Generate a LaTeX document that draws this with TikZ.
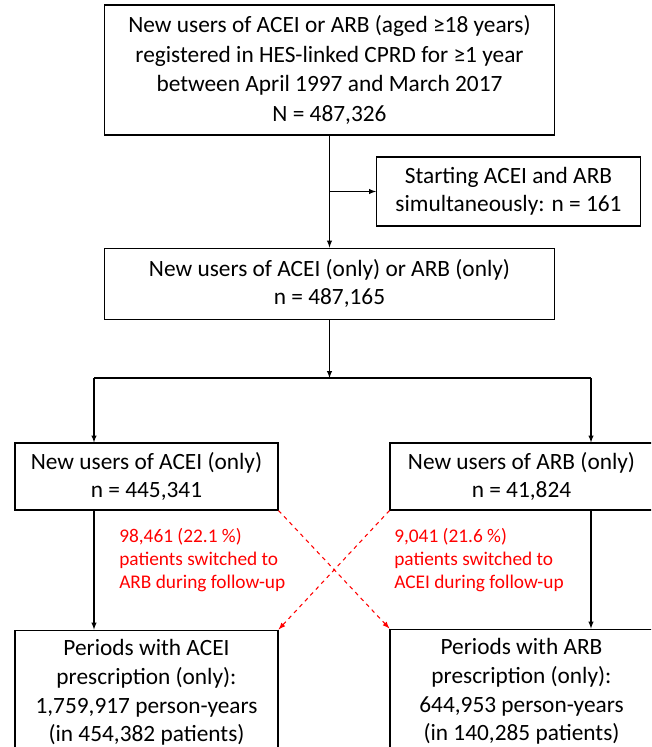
\documentclass[tikz,border=0pt]{standalone}
\usepackage{fontspec}
\setmainfont{Carlito}
\usetikzlibrary{positioning,arrows}
\tikzset{
    caja/.style={draw,line width=0.8pt,align=center,inner sep=0pt,font=\fontsize{17.5}{21.4}\selectfont},
    nota/.style={align=left,text=red,inner sep=0pt,font=\fontsize{14.5}{17.3}\selectfont},
    conector/.style={draw,->,>=latex,line width=0.8pt},
    cambio/.style={draw,->,>=latex,red,dashed,line width=0.8pt},
}
\begin{document}
\begin{tikzpicture}[x=0.75pt,y=-0.75pt]
\path[use as bounding box,clip] (0,0) rectangle (651,747);

% cohorte inicial y exclusion
\node[caja,minimum width=338pt,minimum height=97.5pt,font=\fontsize{17.5}{22.4}\selectfont] (inicio) at (329.5,70)
    {New users of ACEI or ARB (aged ≥18 years)\\registered in HES-linked CPRD for ≥1 year\\between April 1997 and March 2017\\N = 487,326};
\node[caja,minimum width=338pt,minimum height=53.25pt,below=84pt of inicio] (unico)
    {New users of ACEI (only) or ARB (only)\\n = 487,165};
\node[caja,minimum width=198pt,minimum height=51.75pt,anchor=west] (ambos) at (376,191.5)
    {Starting ACEI and ARB\\simultaneously: n = 161};
\coordinate (rama) at (inicio.south |- ambos.west);
\draw[conector] (inicio) -- (unico);
\draw[conector] (rama) -- (ambos);

% dos grupos
\node[caja,minimum width=197.25pt,minimum height=50.25pt] (acei) at (146.5,476.5)
    {New users of ACEI (only)\\n = 445,341};
\node[caja,minimum width=197.25pt,minimum height=50.25pt] (arb) at (521.5,476.5)
    {New users of ARB (only)\\n = 41,824};
\coordinate (cruce) at (unico.south |- 0,378);
\coordinate (izq) at (94,378);
\coordinate (der) at (591,378);
\draw[conector] (unico) -- (cruce);
\draw[line width=0.8pt] (izq) -- (der);
\draw[conector] (izq) -- (izq |- acei.north);
\draw[conector] (der) -- (der |- arb.north);

% periodos de prescripcion
\node[caja,minimum width=197.25pt,minimum height=93.75pt,below=89.25pt of acei] (pacei)
    {Periods with ACEI\\prescription (only):\\1,759,917 person-years\\(in 454,382 patients)};
\node[caja,minimum width=197.25pt,minimum height=93.75pt,below=88.5pt of arb] (parb)
    {Periods with ARB\\prescription (only):\\644,953 person-years\\(in 140,285 patients)};
\draw[conector] (izq |- acei.south) -- (izq |- pacei.north);
\draw[conector] (der |- arb.south) -- (der |- parb.north);

% cambios de tratamiento
\draw[cambio] (acei.south east) -- (parb.north west);
\draw[cambio] (arb.south west) -- (pacei.north east);
\node[nota,anchor=west] (nota1) at (119,560)
    {98,461 (22.1 \%)\\patients switched to\\ARB during follow-up};
\node[nota,anchor=west] (nota2) at (394,560)
    {9,041 (21.6 \%)\\patients switched to\\ACEI during follow-up};
\end{tikzpicture}
\end{document}
